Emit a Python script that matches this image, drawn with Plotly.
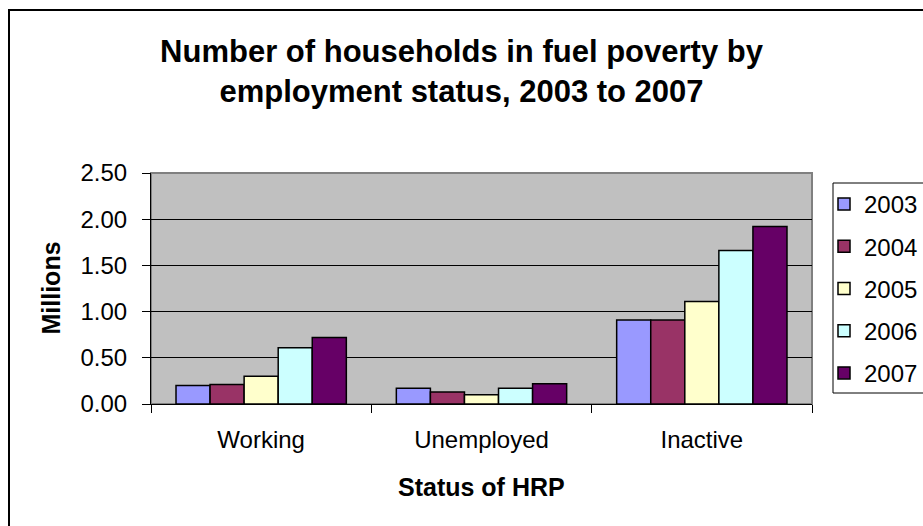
import plotly.graph_objects as go

categories = ["Working", "Unemployed", "Inactive"]
years = ["2003", "2004", "2005", "2006", "2007"]
values_2003 = [0.20, 0.17, 0.91]
values_2004 = [0.21, 0.13, 0.91]
values_2005 = [0.30, 0.10, 1.11]
values_2006 = [0.61, 0.17, 1.66]
values_2007 = [0.72, 0.22, 1.92]
series = [values_2003, values_2004, values_2005, values_2006, values_2007]
colors = ["#9999FF", "#993366", "#FFFFCC", "#CCFFFF", "#660066"]

FONT = "Liberation Sans, Arial, sans-serif"

fig = go.Figure()
for yr, vals, col in zip(years, series, colors):
    fig.add_trace(go.Bar(
        name=yr, x=categories, y=vals, legendgroup=yr,
        marker=dict(color=col, line=dict(color="black", width=1.5)),
    ))

W, H = 923, 526
L, R, T, B = 151, 111, 173, 122
pw, ph = W - L - R, H - T - B

def px_x(x):
    return (x - L) / pw

def px_y(y):
    return (H - B - y) / ph

fig.update_layout(
    width=W, height=H,
    margin=dict(l=L, r=R, t=T, b=B, autoexpand=False),
    paper_bgcolor="white",
    plot_bgcolor="#C0C0C0",
    barmode="group", bargap=0.227, bargroupgap=0,
    font=dict(family=FONT, size=24, color="black"),
    title=dict(
        text="<b>Number of households in fuel poverty by<br>employment status, 2003 to 2007</b>",
        font=dict(family=FONT, size=31, color="black"),
        x=0.5, xanchor="center", xref="container",
        y=1 - 62 / H, yanchor="middle", yref="container",
    ),
    legend=dict(
        x=px_x(824), xanchor="left", y=px_y(182), yanchor="top",
        bgcolor="rgba(0,0,0,0)", borderwidth=0,
        font=dict(family=FONT, size=24, color="black"),
        itemwidth=30, tracegroupgap=8,
    ),
    xaxis=dict(
        showline=True, linecolor="black", linewidth=1,
        ticks="outside", ticklen=8, tickcolor="black",
        tickson="boundaries", ticklabelstandoff=14,
        showgrid=False,
    ),
    yaxis=dict(
        range=[0, 2.5], dtick=0.5, tickformat=".2f",
        showline=True, linecolor="black", linewidth=1,
        ticks="outside", ticklen=8, tickcolor="black",
        ticklabelstandoff=10,
        showgrid=True, gridcolor="black", gridwidth=1,
        zeroline=False,
    ),
    annotations=[
        dict(text="<b>Status of HRP</b>", xref="paper", yref="paper",
             x=0.5, y=px_y(487), xanchor="center", yanchor="middle",
             showarrow=False, font=dict(family=FONT, size=25, color="black")),
        dict(text="<b>Millions</b>", xref="paper", yref="paper",
             x=px_x(50), y=0.5, xanchor="center", yanchor="middle",
             textangle=-90, showarrow=False,
             font=dict(family=FONT, size=25, color="black")),
    ],
    shapes=[
        dict(type="rect", xref="paper", yref="paper",
             x0=0, x1=1, y0=0, y1=1, line=dict(color="#808080", width=2),
             layer="below"),
        dict(type="rect", xref="paper", yref="paper",
             x0=px_x(9), x1=px_x(940), y0=px_y(560), y1=px_y(10),
             line=dict(color="black", width=2), layer="below"),
        dict(type="rect", xref="paper", yref="paper",
             x0=px_x(833), x1=px_x(940), y0=px_y(393), y1=px_y(183),
             line=dict(color="black", width=1), fillcolor="white",
             layer="below"),
    ],
)

fig.write_html("out.html")
